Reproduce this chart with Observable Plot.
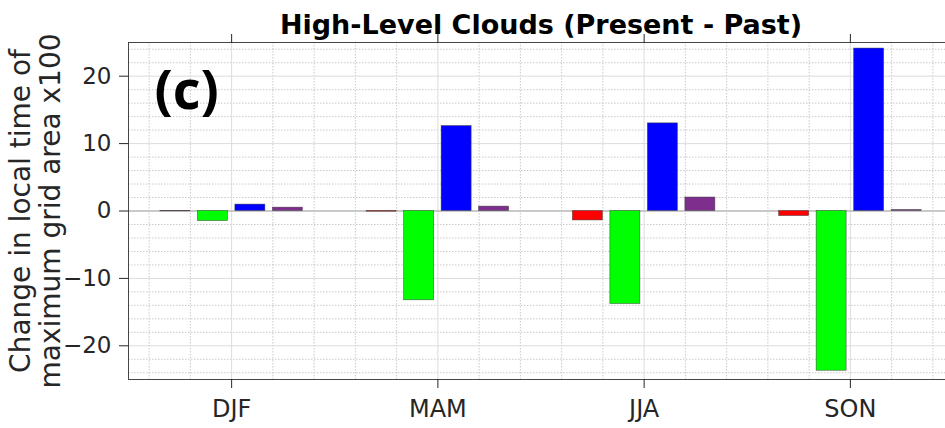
<!DOCTYPE html>
<html>
<head>
<meta charset="utf-8">
<script src="https://cdn.jsdelivr.net/npm/d3@7"></script>
<script src="https://cdn.jsdelivr.net/npm/@observablehq/plot@0.6"></script>
<style>
  html, body { margin: 0; padding: 0; background: #fff; overflow: hidden; }
  #chart svg { display: block; overflow: hidden; }
</style>
</head>
<body>
<div id="chart"></div>
<script>
// ---- data ----
const seasons = ["DJF", "MAM", "JJA", "SON"];
const seriesNames = ["s1", "s2", "s3", "s4"];
const seriesColors = ["#ff0000", "#00ff00", "#0000ff", "#7e2f8e"];
const s1 = [-0.05, -0.1, -1.4, -0.75];
const s2 = [-1.5, -13.25, -13.8, -23.7];
const s3 = [0.95, 12.6, 13.0, 24.1];
const s4 = [0.5, 0.65, 2.0, 0.15];
const yTicks = [-20, -10, 0, 10, 20];
const titleText = "High-Level Clouds (Present - Past)";
const yLabel = "Change in local time of\nmaximum grid area x100";
const panelLabel = "(c)";

// ---- table ----
const allSeries = [s1, s2, s3, s4];
const nS = allSeries.length;
const groupWidth = Math.min(0.8, nS / (nS + 1.5));
const step = groupWidth / nS;
const barW = step * 0.8;
const rows = [];
seasons.forEach((s, i) => {
  allSeries.forEach((vals, j) => {
    const c = i + 1 + (j - (nS - 1) / 2) * step;
    rows.push({season: s, series: seriesNames[j], x1: c - barW / 2, x2: c + barW / 2, value: vals[i]});
  });
});
const xMajor = seasons.map((d, i) => i + 1);
const xMinor = d3.range(0.6, 4.5, 0.2).map(v => +v.toFixed(1)).filter(v => Math.abs(v - Math.round(v)) > 1e-6);
const yMinor = d3.range(-24, 25, 2).filter(v => v % 10 !== 0);

const ink = "#262626";
const chart = Plot.plot({
  width: 945,
  height: 428,
  marginLeft: 128,
  marginRight: -8,
  marginTop: 42,
  marginBottom: 49,
  style: {fontFamily: "DejaVu Sans", color: ink, background: "#fff", overflow: "hidden"},
  x: {domain: [0.5, 4.5]},
  y: {domain: [-25, 25]},
  color: {domain: seriesNames, range: seriesColors},
  marks: [
    Plot.gridX(xMinor, {stroke: "#bdbdbd", strokeOpacity: 1, strokeDasharray: "1.5,1.5", strokeWidth: 0.8}),
    Plot.gridY(yMinor, {stroke: "#bdbdbd", strokeOpacity: 1, strokeDasharray: "1.5,1.5", strokeWidth: 0.8}),
    Plot.gridX(xMajor, {stroke: "#dcdcdc", strokeOpacity: 1, strokeWidth: 1}),
    Plot.gridY(yTicks, {stroke: "#dcdcdc", strokeOpacity: 1, strokeWidth: 1}),
    Plot.ruleY([0], {stroke: "#a6a6a6", strokeWidth: 1.2}),
    Plot.rectY(rows, {x1: "x1", x2: "x2", y1: 0, y2: "value", fill: "series", stroke: "#3a3a3a", strokeWidth: 0.6, strokeOpacity: 0.8}),
    Plot.frame({stroke: ink, strokeWidth: 1, strokeOpacity: 0.85}),
    Plot.axisY({ticks: yTicks, tickSize: 9, tickPadding: 8, fontSize: 23, label: null, stroke: ink}),
    Plot.axisX({ticks: xMajor, tickSize: 9, tickPadding: 11, fontSize: 24, label: null, tickFormat: d => seasons[d - 1]}),
    Plot.axisX({anchor: "top", ticks: xMajor, tickSize: 9, label: null, tickFormat: () => ""}),
    Plot.text([titleText], {frameAnchor: "top", dy: -9, lineAnchor: "bottom", fontSize: 27, fontWeight: "bold", fill: "#000"}),
    Plot.text([panelLabel], {frameAnchor: "top-left", dx: 26, dy: 28, lineAnchor: "top", textAnchor: "start", fontSize: 54, fontWeight: "bold", fontFamily: "Open Sans", fill: "#000"}),
    Plot.text([yLabel], {frameAnchor: "left", dx: -93, rotate: -90, lineAnchor: "middle", textAnchor: "middle", fontSize: 28, lineHeight: 1.05, fill: ink})
  ]
});
document.getElementById("chart").appendChild(chart);
</script>
</body>
</html>
